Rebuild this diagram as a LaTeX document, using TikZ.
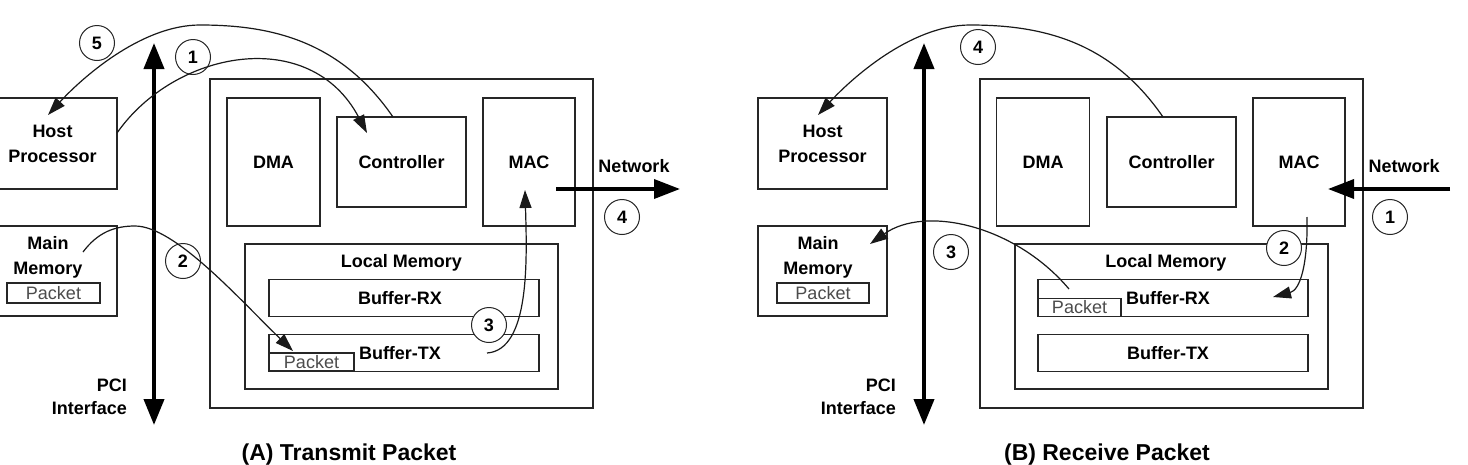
\documentclass[tikz,border=0pt]{standalone}
\usepackage{fontspec}
\setmainfont{Liberation Sans}
\usetikzlibrary{arrows.meta}
\begin{document}
\begin{tikzpicture}[x=1pt,y=-1pt,
  box/.style={draw=black!85, line width=1.5pt, inner sep=0pt, font=\fontsize{18}{25}\selectfont\bfseries, align=center},
  lbl/.style={inner sep=0pt, font=\fontsize{18}{25}\selectfont\bfseries, align=center},
  pkt/.style={draw=black!85, line width=1.2pt, inner sep=0pt, font=\fontsize{18}{20}\selectfont, text=black!70},
  num/.style={draw=black!85, fill=white, circle, line width=1pt, minimum size=35pt, inner sep=0pt, font=\fontsize{18}{20}\selectfont\bfseries},
  flow/.style={draw=black!90, line width=1.2pt, -{Triangle[length=18pt,width=12pt]}},
  bus/.style={line width=4pt, {Triangle[length=26pt,width=20pt]}-{Triangle[length=26pt,width=20pt]}},
  net/.style={line width=3.5pt, -{Triangle[length=26pt,width=19pt]}},
  captext/.style={inner sep=0pt, font=\fontsize{23}{26}\selectfont\bfseries}]
\useasboundingbox (0,0) rectangle (1468,464);
\clip (0,0) rectangle (1468,464);
\fill[white] (0,0) rectangle (1468,464);

% ---------------- Panel A ----------------
\node[box, minimum width=129pt, minimum height=91pt] (hostA) at (52.5,143.5) {Host\\Processor};
\node[box, minimum width=129pt, minimum height=90pt] (memA) at (52.5,271) {};
\node[lbl] (memAt) at (48,257.5) {Main\\Memory};
\node[pkt, minimum width=93pt, minimum height=20pt] (pktMA) at (53.5,293) {Packet};

\node[box, minimum width=383pt, minimum height=329pt] (nicA) at (401.5,243.5) {};
\node[box, minimum width=93pt, minimum height=128pt] (dmaA) at (273.5,162) {DMA};
\node[box, minimum width=129pt, minimum height=90pt] (ctrlA) at (401.5,162) {Controller};
\node[box, minimum width=92pt, minimum height=128pt] (macA) at (529,162) {MAC};
\node[box, minimum width=313pt, minimum height=145pt] (lmA) at (401.5,316.5) {};
\node[lbl] (lmAt) at (401.5,263) {Local Memory};
\node[box, minimum width=270pt, minimum height=37pt] (rxA) at (404,298) {};
\node[lbl] (rxAt) at (400,298) {Buffer-RX};
\node[box, minimum width=270pt, minimum height=37pt] (txA) at (404,353) {};
\node[lbl] (txAt) at (400,353) {Buffer-TX};
\node[pkt, minimum width=85pt, minimum height=18pt] (pktTA) at (311.5,362) {Packet};

\coordinate (pciAt) at (154,43);
\coordinate (pciAb) at (154,425);
\draw[bus] (pciAb) -- (pciAt);
\node[lbl, align=right, anchor=east] (pciA) at (127,396.5) {PCI\\[-2pt]Interface};

\coordinate (netAs) at (556,189);
\coordinate (netAe) at (680,189);
\draw[net] (netAs) -- (netAe);
\node[lbl] (netAl) at (634,166) {Network};

\node[num] (n1A) at (193,57) {1};
\node[num] (n2A) at (183,261) {2};
\node[num] (n3A) at (489,325) {3};
\node[num] (n4A) at (622,217) {4};
\node[num] (n5A) at (97,43) {5};

\coordinate (a1s) at (117,133);
\coordinate (a1e) at (367,133);
\draw[flow] (a1s) .. controls (175,50) and (310,25) .. (a1e);
\coordinate (a5s) at (393,117);
\coordinate (a5m) at (200,25);
\coordinate (a5e) at (48,115);
\draw[flow] (a5s) .. controls (340,40) and (270,25) .. (a5m) .. controls (140,25) and (80,80) .. (a5e);
\coordinate (a2s) at (83,252);
\coordinate (a2m) at (135,226);
\coordinate (a2e) at (293,351);
\draw[flow] (a2s) .. controls (98,232) and (115,226) .. (a2m) .. controls (175,226) and (240,300) .. (a2e);
\coordinate (a3s) at (487,353);
\coordinate (a3e) at (525,190);
\draw[flow] (a3s) .. controls (530,350) and (527,260) .. (a3e);

\node[captext] (capA) at (349,455) {(A) Transmit Packet};

% ---------------- Panel B ----------------
\node[box, minimum width=129pt, minimum height=91pt] (hostB) at (822.5,143.5) {Host\\Processor};
\node[box, minimum width=129pt, minimum height=90pt] (memB) at (822.5,271) {};
\node[lbl] (memBt) at (818,257.5) {Main\\Memory};
\node[pkt, minimum width=92pt, minimum height=20pt] (pktMB) at (823,293) {Packet};

\node[box, minimum width=383pt, minimum height=329pt] (nicB) at (1171.5,243.5) {};
\node[box, minimum width=93pt, minimum height=128pt] (dmaB) at (1043,162) {DMA};
\node[box, minimum width=129pt, minimum height=90pt] (ctrlB) at (1171.5,162) {Controller};
\node[box, minimum width=92pt, minimum height=128pt] (macB) at (1299,162) {MAC};
\node[box, minimum width=313pt, minimum height=145pt] (lmB) at (1171.5,316.5) {};
\node[lbl] (lmBt) at (1166,263) {Local Memory};
\node[box, minimum width=270pt, minimum height=37pt] (rxB) at (1173,298) {};
\node[lbl] (rxBt) at (1168,298) {Buffer-RX};
\node[box, minimum width=270pt, minimum height=37pt] (txB) at (1173,353) {};
\node[lbl] (txBt) at (1168,353) {Buffer-TX};
\node[pkt, minimum width=83pt, minimum height=18pt] (pktRB) at (1079.5,307.5) {Packet};

\coordinate (pciBt) at (924,43);
\coordinate (pciBb) at (924,425);
\draw[bus] (pciBb) -- (pciBt);
\node[lbl, align=right, anchor=east] (pciB) at (896,396.5) {PCI\\[-2pt]Interface};

\coordinate (netBs) at (1450,189);
\coordinate (netBe) at (1328,189);
\draw[net] (netBs) -- (netBe);
\node[lbl] (netBl) at (1404,166) {Network};

\node[num] (n1B) at (1390,217) {1};
\node[num] (n2B) at (1284,248) {2};
\node[num] (n3B) at (951,252) {3};
\node[num] (n4B) at (978,47) {4};

\coordinate (b4s) at (1163,117);
\coordinate (b4m) at (970,25);
\coordinate (b4e) at (818,115);
\draw[flow] (b4s) .. controls (1110,40) and (1040,25) .. (b4m) .. controls (910,25) and (850,80) .. (b4e);
\coordinate (b2s) at (1307,217);
\coordinate (b2e) at (1273,297);
\draw[flow] (b2s) .. controls (1308,265) and (1300,290) .. (b2e);
\coordinate (b3s) at (1069,289);
\coordinate (b3e) at (870,244);
\draw[flow] (b3s) .. controls (1015,225) and (925,205) .. (b3e);

\node[captext] (capB) at (1107,455) {(B) Receive Packet};
\end{tikzpicture}
\end{document}
